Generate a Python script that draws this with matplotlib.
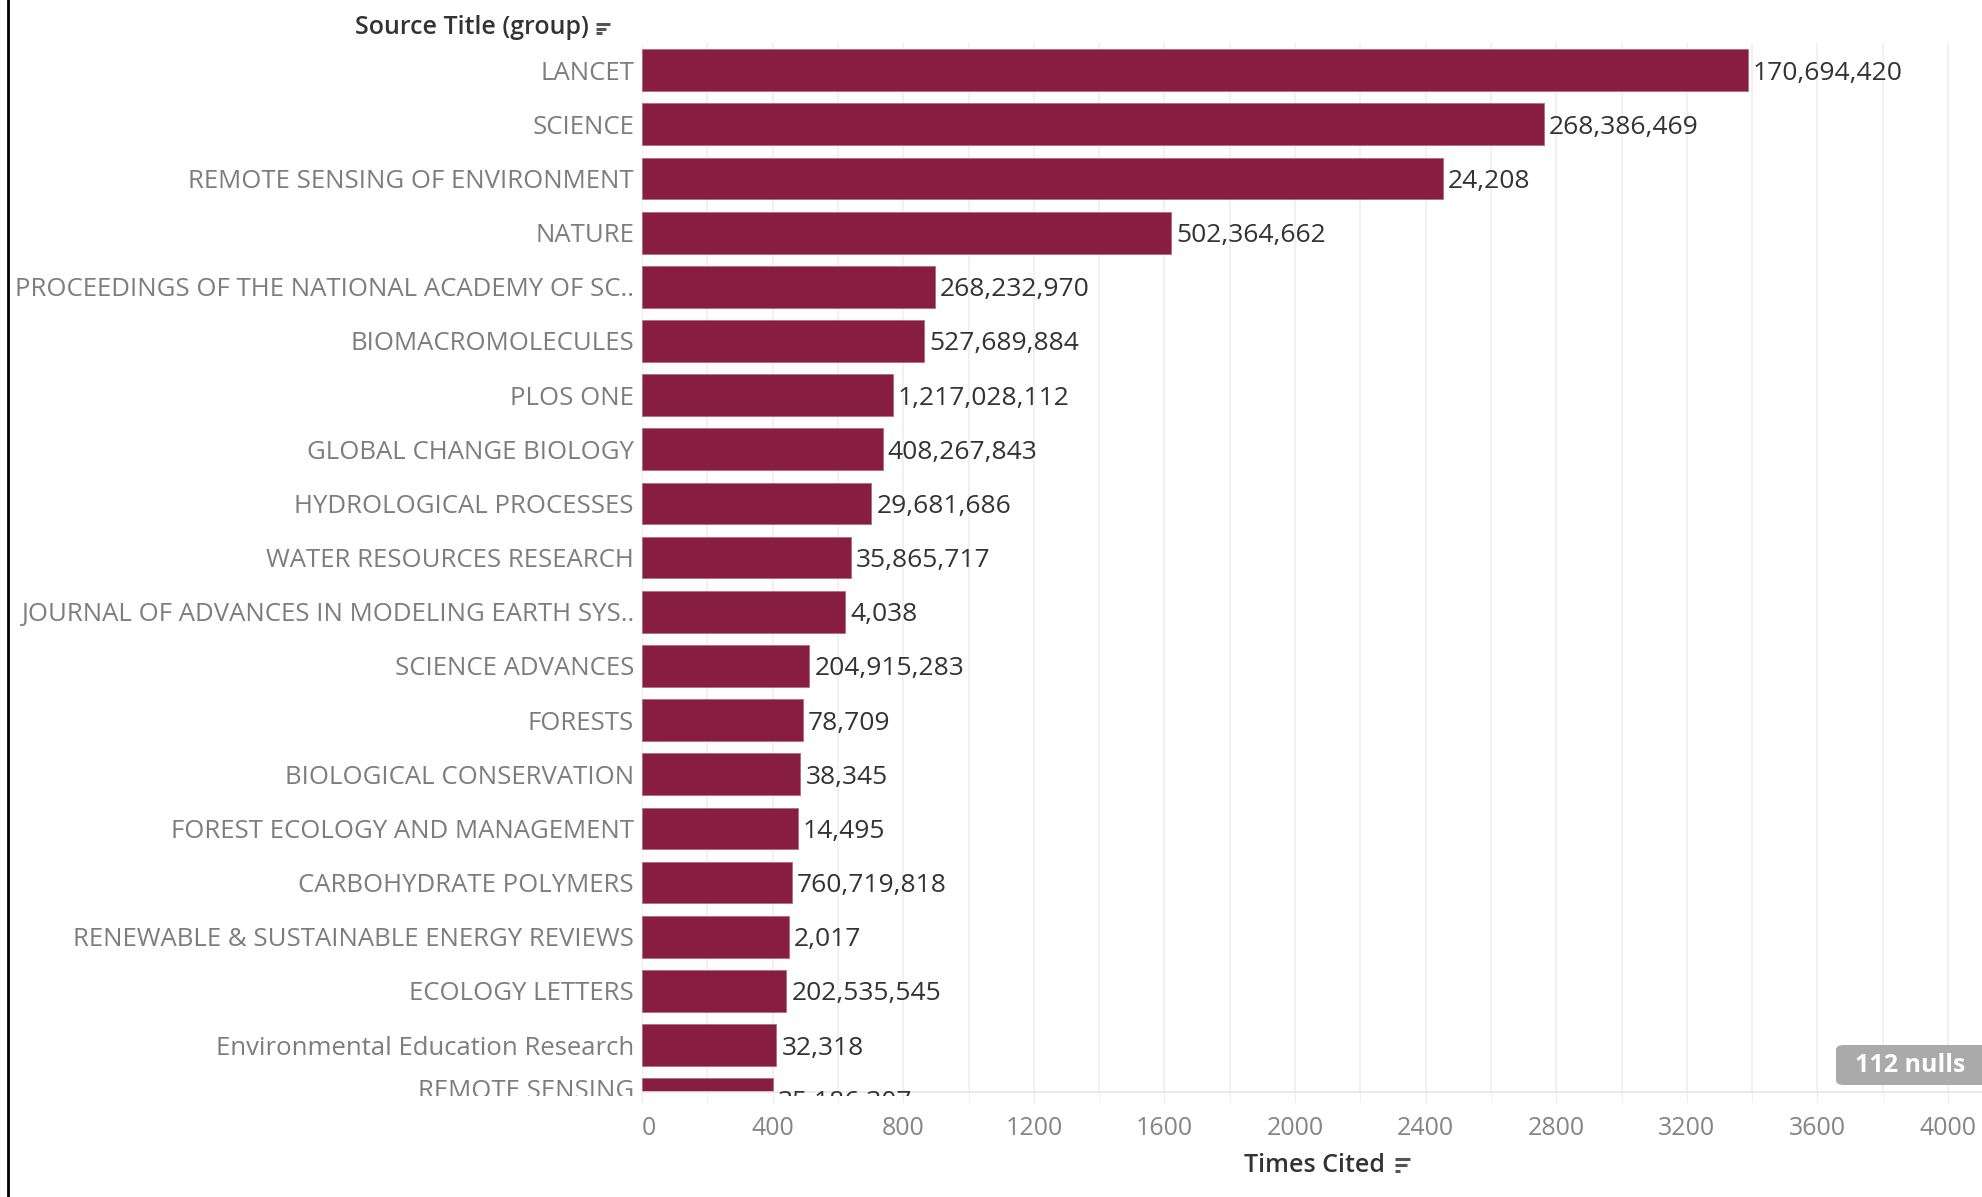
import matplotlib
matplotlib.use("Agg")
import matplotlib.pyplot as plt
from matplotlib.lines import Line2D
from matplotlib.patches import FancyBboxPatch
from matplotlib.transforms import Bbox, TransformedBbox, blended_transform_factory, offset_copy

journals = [
    "LANCET", "SCIENCE", "REMOTE SENSING OF ENVIRONMENT", "NATURE",
    "PROCEEDINGS OF THE NATIONAL ACADEMY OF SC..", "BIOMACROMOLECULES",
    "PLOS ONE", "GLOBAL CHANGE BIOLOGY", "HYDROLOGICAL PROCESSES",
    "WATER RESOURCES RESEARCH", "JOURNAL OF ADVANCES IN MODELING EARTH SYS..",
    "SCIENCE ADVANCES", "FORESTS", "BIOLOGICAL CONSERVATION",
    "FOREST ECOLOGY AND MANAGEMENT", "CARBOHYDRATE POLYMERS",
    "RENEWABLE & SUSTAINABLE ENERGY REVIEWS", "ECOLOGY LETTERS",
    "Environmental Education Research", "REMOTE SENSING",
]
times_cited = [3386, 2762, 2452, 1621, 896, 865, 768, 737, 702, 640,
               621, 512, 493, 485, 477, 458, 450, 442, 411, 400]
bar_labels = [
    "170,694,420", "268,386,469", "24,208", "502,364,662", "268,232,970",
    "527,689,884", "1,217,028,112", "408,267,843", "29,681,686", "35,865,717",
    "4,038", "204,915,283", "78,709", "38,345", "14,495", "760,719,818",
    "2,017", "202,535,545", "32,318", "35,186,307",
]
x_ticks = [0, 400, 800, 1200, 1600, 2000, 2400, 2800, 3200, 3600, 4000]
nulls_text = "112 nulls"

BAR = "#871e41"
W, H = 1982, 1197
FONT = ["Open Sans", "DejaVu Sans"]

fig = plt.figure(figsize=(W / 100, H / 100), dpi=100)
fig.patch.set_facecolor("white")

# Achsenbereich in Pixeln
left, right, top, bottom = 642, W, 43, 1092
ax = fig.add_axes([left / W, 1 - bottom / H, (right - left) / W, (bottom - top) / H])
y_min, y_max = 18.866, -0.502

y = list(range(len(journals)))
ax.barh(y, times_cited, height=0.77, color=BAR, edgecolor="#b46a82", linewidth=0.6, zorder=2)

# Texte werden knapp unter dem Achsenrand abgeschnitten (wie im Tableau-Export)
clip = TransformedBbox(Bbox([[0, 1 - 1096 / H], [1, 1]]), fig.transFigure)

for yi, val, lab in zip(y, times_cited, bar_labels):
    t = ax.text(val + 16, yi, lab, va="center_baseline", ha="left", fontsize=19,
                family=FONT, color="#333333", zorder=3)
    t.set_clip_box(clip)
    t.set_clip_on(True)

ax.set_ylim(y_min, y_max)
ax.set_xlim(0, 4104)
ax.set_yticks([])

# Kategorienamen als Text
lab_tr = offset_copy(blended_transform_factory(ax.transAxes, ax.transData),
                     fig=fig, x=-8, y=0, units="dots")
for yi, name in zip(y, journals):
    t = ax.text(0, min(yi, y_min - 0.06), name, transform=lab_tr, ha="right",
                va="center_baseline", family=FONT, fontsize=18.5, color="#7d7d7d")
    t.set_clip_box(clip)
    t.set_clip_on(True)

ax.set_xticks(x_ticks)
ax.set_xticks(range(200, 4001, 400), minor=True)
ax.set_xticklabels([str(t) for t in x_ticks], family=FONT, fontsize=18, color="#858585")
ax.get_xticklabels()[0].set_ha("left")
ax.tick_params(axis="x", which="both", length=7, color="#ececec", pad=10)
ax.grid(axis="x", which="both", color="#efefef", linewidth=1.2, zorder=0)
ax.set_axisbelow(True)

for s in ["top", "right", "left"]:
    ax.spines[s].set_visible(False)
ax.spines["bottom"].set_color("#e6e6e6")
ax.spines["bottom"].set_linewidth(1.2)


def px(xp, yp):
    return xp / W, 1 - yp / H


def sort_icon(x0, y0, lengths, gap):
    for i, ln in enumerate(lengths):
        yy = y0 + i * gap
        fig.add_artist(Line2D([x0 / W, (x0 + ln) / W], [1 - yy / H, 1 - yy / H],
                              color="#555555", linewidth=2.2, solid_capstyle="butt"))


# Kopfzeile und Achsentitel
fig.text(*px(589, 27), "Source Title (group)", ha="right", va="center",
         family=FONT, fontsize=18, fontweight="semibold", color="#333333")
sort_icon(596, 24, [14, 10, 6], 4.5)

fig.text(*px(1385, 1166), "Times Cited", ha="right", va="center",
         family=FONT, fontsize=18, fontweight="semibold", color="#333333")
sort_icon(1395, 1159, [15, 12, 5], 6)

# "112 nulls" Badge
bx0, by0, bx1, by1 = 1836, 1045, 1990, 1085
badge = FancyBboxPatch(px(bx0, by1), (bx1 - bx0) / W, (by1 - by0) / H,
                       boxstyle="round,pad=0,rounding_size=0.004",
                       transform=fig.transFigure, facecolor="#aaaaaa",
                       edgecolor="none", zorder=5)
fig.add_artist(badge)
fig.text(*px(1910, 1066), nulls_text, ha="center", va="center", family=FONT,
         fontsize=18, fontweight="bold", color="white", zorder=6)

# linker Rand
fig.add_artist(Line2D([7.5 / W, 7.5 / W], [0, 1], color="black", linewidth=2))

fig.savefig("out.png", dpi=100, facecolor="white")
